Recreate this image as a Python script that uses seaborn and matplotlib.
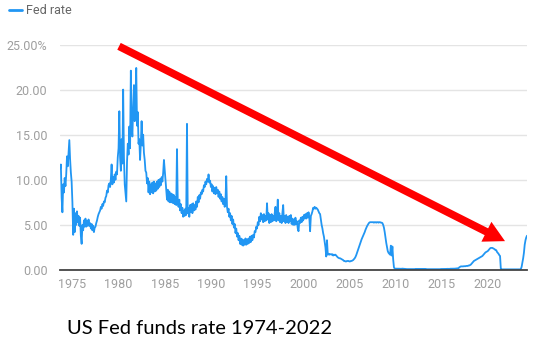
import matplotlib
matplotlib.use("Agg")
import matplotlib.pyplot as plt
import matplotlib.dates as mdates
import seaborn as sns
import pandas as pd

# monthly fed rate (%), Sep 1973 .. Apr 2024
rates_1970s = [11.2, 11.7, 8.0, 6.4,
               9.5, 8.6, 10.2, 9.3, 10.6, 12.6, 11.5, 13.0, 14.4, 12.3, 10.8, 9.8,
               7.5, 3.9, 6.8, 4.2, 6.3, 5.0, 6.5, 5.3, 6.0, 4.9, 5.8, 3.8,
               2.9, 5.0, 4.4, 5.5, 4.8, 5.7, 4.8, 5.4, 4.9, 5.6, 4.9, 5.2,
               4.6, 5.1, 4.4, 4.9, 4.2, 4.7, 4.8, 5.2, 5.5, 5.9, 6.2, 6.4,
               6.6, 7.0, 6.8, 7.3, 7.1, 7.6, 7.5, 8.0, 8.2, 8.8, 8.6, 9.4,
               9.6, 9.2, 10.0, 11.7, 9.5, 10.3, 9.7, 10.6, 10.0, 10.9, 10.6, 12.5]
rates_1980s = [13.5, 17.6, 12.5, 11.0, 14.5, 11.8, 20.0, 12.5, 9.5, 8.5, 7.6, 12.0,
               14.0, 12.8, 15.9, 13.5, 22.1, 16.0, 14.8, 18.0, 20.5, 16.5, 19.0, 22.4,
               16.0, 17.5, 14.0, 14.5, 12.2, 14.0, 16.5, 13.8, 15.0, 13.0, 12.2, 11.0,
               10.8, 9.6, 10.2, 8.6, 9.8, 8.4, 9.5, 8.6, 9.7, 8.5, 9.8, 8.7,
               9.6, 8.8, 9.8, 9.0, 10.0, 9.2, 10.1, 9.4, 10.3, 9.8, 10.8, 12.2,
               11.1, 10.0, 9.0, 7.8, 8.9, 7.6, 8.7, 7.5, 8.5, 7.5, 8.4, 7.4,
               8.3, 7.3, 8.1, 7.2, 13.4, 7.6, 7.0, 7.8, 6.6, 7.3, 6.3, 6.9,
               5.9, 6.6, 6.0, 6.8, 6.1, 16.2, 6.3, 6.9, 5.9, 7.2, 6.4, 7.3,
               6.3, 7.4, 6.6, 7.2, 6.7, 7.6, 7.0, 8.1, 7.5, 8.3, 7.9, 8.6,
               8.4, 8.9, 8.7, 9.4, 9.2, 9.8, 9.5, 10.1, 9.8, 10.6, 9.7, 9.9]
rates_1990s = [9.2, 9.5, 8.7, 9.3, 8.5, 9.1, 8.4, 9.2, 8.5, 8.9, 8.1, 8.7,
               7.9, 8.4, 7.6, 8.1, 7.3, 7.9, 7.0, 7.6, 10.4, 7.0, 6.4, 6.8,
               5.9, 6.3, 5.5, 6.0, 5.1, 5.6, 4.7, 5.1, 4.1, 4.6, 3.7, 4.1,
               3.3, 3.8, 2.9, 3.5, 2.8, 3.4, 2.7, 3.3, 2.8, 3.5, 2.8, 3.4,
               2.9, 3.5, 3.0, 3.7, 3.1, 3.8, 3.3, 3.9, 3.6, 4.3, 4.2, 4.8,
               4.6, 5.3, 5.0, 5.9, 5.4, 6.3, 5.6, 6.1, 5.3, 6.2, 5.4, 6.0,
               5.5, 7.4, 5.6, 6.3, 5.2, 6.1, 5.3, 6.2, 5.4, 6.0, 5.5, 6.3,
               7.0, 5.4, 6.0, 7.8, 5.5, 6.3, 5.3, 6.0, 5.2, 6.3, 7.2, 5.4,
               6.0, 5.2, 6.1, 5.3, 5.9, 5.2, 6.0, 5.4, 6.1, 5.1, 5.7, 5.0,
               5.6, 5.0, 5.8, 5.1, 5.4, 4.6, 4.3, 5.5, 5.2, 5.8, 5.3, 5.9]
rates_2000s = [5.5, 6.1, 5.7, 6.2, 5.7, 6.3, 5.8, 6.4, 5.8, 4.3, 6.0, 6.2,
               6.5, 6.9, 6.8, 7.0, 6.8, 6.9, 6.8, 6.7, 6.5, 6.3, 6.2, 5.6,
               5.0, 4.6, 4.1, 3.7, 3.1, 2.5, 1.5, 3.3, 1.7, 1.8, 1.7, 1.75,
               1.75, 1.7, 1.75, 1.6, 1.7, 1.65, 1.7, 1.6, 1.5, 1.4, 1.35, 1.3,
               1.3, 1.25, 1.2, 1.15, 1.1, 1.0, 1.0, 0.95, 0.95, 1.0, 1.0, 1.0,
               0.95, 0.95, 1.0, 1.0, 1.05, 1.1, 1.2, 1.3, 1.45, 1.65, 1.9, 2.15,
               2.4, 2.65, 2.9, 3.15, 3.4, 3.6, 3.8, 4.0, 4.2, 4.45, 4.65, 4.85,
               5.0, 5.15, 5.25, 5.3, 5.3, 5.3, 5.3, 5.3, 5.25, 5.3, 5.3, 5.25,
               5.3, 5.3, 5.25, 5.3, 5.3, 5.25, 5.25, 5.2, 5.0, 4.7, 4.2, 3.6,
               3.0, 2.5, 2.1, 1.9, 1.8, 1.7, 2.7, 1.6, 2.6, 1.2, 0.3, 0.15]
rates_2010s = [0.15, 0.15, 0.14, 0.15, 0.16, 0.15, 0.14, 0.13, 0.14, 0.15, 0.14, 0.13,
               0.12, 0.12, 0.11, 0.1, 0.1, 0.1, 0.09, 0.1, 0.1, 0.09, 0.1, 0.1,
               0.1, 0.1, 0.12, 0.12, 0.13, 0.13, 0.13, 0.12, 0.12, 0.13, 0.13, 0.13,
               0.12, 0.12, 0.12, 0.12, 0.1, 0.09, 0.09, 0.08, 0.08, 0.09, 0.08, 0.09,
               0.08, 0.08, 0.08, 0.09, 0.09, 0.1, 0.09, 0.09, 0.09, 0.09, 0.09, 0.11,
               0.11, 0.11, 0.11, 0.12, 0.12, 0.12, 0.12, 0.13, 0.13, 0.12, 0.12, 0.14,
               0.14, 0.14, 0.15, 0.15, 0.15, 0.15, 0.16, 0.16, 0.17, 0.18, 0.2, 0.3,
               0.35, 0.4, 0.4, 0.4, 0.4, 0.42, 0.42, 0.42, 0.45, 0.45, 0.45, 0.5,
               0.5, 0.55, 0.6, 0.7, 0.8, 0.9, 1.0, 1.05, 1.1, 1.15, 1.2, 1.25,
               1.3, 1.35, 1.4, 1.45, 1.5, 1.55, 1.65, 1.75, 1.85, 1.95, 2.0, 2.05]
rates_2020s = [2.1, 2.2, 2.3, 2.4, 2.45, 2.45, 2.45, 2.4, 2.35, 2.3, 2.2, 2.2,
               2.0, 1.9, 1.8, 1.65, 1.55, 0.1, 0.07, 0.07, 0.07, 0.07, 0.07, 0.07,
               0.07, 0.07, 0.08, 0.07, 0.07, 0.08, 0.07, 0.07, 0.07, 0.08, 0.07, 0.07,
               0.07, 0.07, 0.08, 0.07, 0.07, 0.08, 0.07, 0.1, 0.35, 0.8, 1.3, 1.9,
               2.8, 3.3, 3.6, 3.8]

tick_years = [1975, 1980, 1985, 1990, 1995, 2000, 2005, 2010, 2015, 2020]
y_ticks = [0, 5, 10, 15, 20, 25]
y_labels = ["0.00", "5.00", "10.00", "15.00", "20.00", "25.00%"]

rates = rates_1970s + rates_1980s + rates_1990s + rates_2000s + rates_2010s + rates_2020s
df = pd.DataFrame({"date": pd.date_range("1973-09-01", periods=len(rates), freq="MS"),
                   "rate": rates})

sns.set_style("white")
plt.rcParams["font.family"] = ["Roboto", "DejaVu Sans"]

fig = plt.figure(figsize=(5.35, 3.56), dpi=100)
ax = fig.add_axes([60 / 535, 86 / 356, 467 / 535, 225.5 / 356])

sns.lineplot(data=df, x="date", y="rate", color="#2196F3", linewidth=1.3, ax=ax)

ax.set_xlim(pd.Timestamp("1973-08-28"), pd.Timestamp("2024-04-01"))
ax.set_ylim(0, 25)
ax.set_xticks([pd.Timestamp(f"{y}-01-01") for y in tick_years])
ax.set_xticklabels([str(y) for y in tick_years])
ax.set_yticks(y_ticks)
ax.set_yticklabels(y_labels)
ax.set_xlabel("")
ax.set_ylabel("")
ax.tick_params(axis="both", length=0, labelsize=9, colors="#9e9e9e")
ax.tick_params(axis="y", pad=9)
ax.tick_params(axis="x", pad=6)
ax.grid(axis="y", color="#e4e4e4", linewidth=1)
ax.grid(axis="x", visible=False)
for s in ["top", "right", "left"]:
    ax.spines[s].set_visible(False)
ax.spines["bottom"].set_color("#444444")
ax.spines["bottom"].set_linewidth(1.3)
ax.spines["bottom"].set_zorder(3)

# big red trend arrow
start = (mdates.date2num(pd.Timestamp("1980-01-19")), 24.8)
tip = (mdates.date2num(pd.Timestamp("2021-11-13")), 3.2)
ax.annotate("", xy=tip, xytext=start,
            arrowprops=dict(arrowstyle="simple,head_length=1.5,head_width=1.6,tail_width=0.55",
                            mutation_scale=10, color="#ff0000", lw=0,
                            shrinkA=0, shrinkB=0),
            zorder=5)

leg = ax.legend(handles=ax.get_lines()[:1], labels=["Fed rate"], loc="upper left",
                bbox_to_anchor=(9 / 535, 1 - 4 / 356), bbox_transform=fig.transFigure,
                frameon=False, fontsize=9, handlelength=1.0, handletextpad=0.4,
                borderpad=0, borderaxespad=0)
for t in leg.get_texts():
    t.set_color("#666666")
for h in leg.get_lines():
    h.set_linewidth(2)

fig.text(67 / 535, 1 - 334 / 356, "US Fed funds rate 1974-2022", fontsize=14.5,
         family=["Lato", "DejaVu Sans"], color="black", va="baseline")

fig.savefig("out.png", dpi=100)
